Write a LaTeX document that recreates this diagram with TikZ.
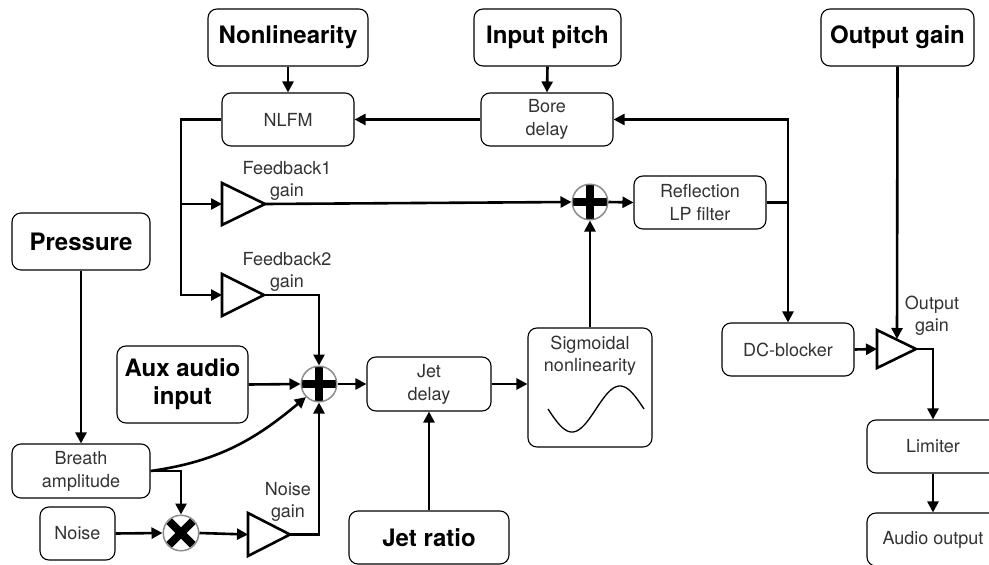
\documentclass[tikz,border=0pt]{standalone}
\usepackage{fontspec}
\setmainfont{TeX Gyre Heros}
\usetikzlibrary{arrows.meta,calc}
\begin{document}
\begin{tikzpicture}[x=1pt,y=-1pt,
 box/.style={draw, rounded corners=9pt, line width=1.1pt, align=center, font=\fontsize{18}{23}\selectfont, text=black!80, inner sep=0pt},
 bbox/.style={draw, rounded corners=9pt, line width=1.1pt, align=center, font=\fontsize{24}{28}\selectfont\bfseries, inner sep=0pt},
 lbl/.style={align=center, font=\fontsize{18}{22}\selectfont, text=black!80, inner sep=0pt},
 arr/.style={line width=2.6pt, -{Triangle[length=11pt,width=11pt]}},
 wire/.style={line width=2.6pt},
 amp/.style={line width=2.6pt, line join=miter},
 junc/.style={circle, draw=black!45, line width=1pt, minimum size=36pt, inner sep=0pt},
 bar/.style={line width=8pt},
]
\fill[white] (0,0) rectangle (989,565);
\useasboundingbox (0,0) rectangle (989,565);

% top control boxes
\node[bbox, minimum width=160pt, minimum height=57pt] (nonlin) at (288,37.5) {Nonlinearity};
\node[bbox, minimum width=147pt, minimum height=57pt] (inpitch) at (547.5,37.5) {Input pitch};
\node[bbox, minimum width=153pt, minimum height=57pt] (outgain) at (897.5,37.5) {Output gain};
\node[bbox, minimum width=138pt, minimum height=57pt] (pressure) at (81,241.5) {Pressure};
\node[bbox, minimum width=131pt, minimum height=77pt] (aux) at (182.5,384.5) {Aux audio\\input};
\node[bbox, minimum width=160pt, minimum height=53pt] (jetratio) at (429,537.5) {Jet ratio};

% processing boxes
\node[box, minimum width=132pt, minimum height=53pt] (nlfm) at (288,119.5) {NLFM};
\node[box, minimum width=132pt, minimum height=53pt] (bore) at (547,119.5) {Bore\\delay};
\node[box, minimum width=132pt, minimum height=53pt] (refl) at (700,202.5) {Reflection\\LP filter};
\node[box, minimum width=138pt, minimum height=54pt] (breath) at (81,471) {Breath\\amplitude};
\node[box, minimum width=75pt, minimum height=53pt] (noise) at (77.5,533.5) {Noise};
\node[box, minimum width=124pt, minimum height=54pt] (jetdelay) at (429,384) {Jet\\delay};
\node[box, minimum width=124pt, minimum height=119pt] (sig) at (590,387.5) {};
\node[lbl] (siglbl) at (590,355.5) {Sigmoidal\\nonlinearity};
\draw[line width=1.3pt] plot[domain=0:360, samples=80] ({548+\x/3.75}, {409+23*sin(\x)});
\node[box, minimum width=132pt, minimum height=53pt] (dcblock) at (788,349.5) {DC-blocker};
\node[box, minimum width=132pt, minimum height=53pt] (limiter) at (933,446.5) {Limiter};
\node[box, minimum width=132pt, minimum height=53pt] (audioout) at (933,539.5) {Audio output};

% amplifiers
\coordinate (fb1in) at (222,204); \coordinate (fb1out) at (265,204);
\coordinate (fb2in) at (222,295); \coordinate (fb2out) at (264,295);
\coordinate (ngin) at (248,534.5); \coordinate (ngout) at (290,534.5);
\coordinate (ogin) at (877,349); \coordinate (ogout) at (916,349);
\coordinate (ogtop) at (897,339);
\draw[amp] (222,183) -- (222,225) -- (fb1out) -- cycle;
\draw[amp] (222,274) -- (222,316) -- (fb2out) -- cycle;
\draw[amp] (248,513) -- (248,556) -- (ngout) -- cycle;
\draw[amp] (877,330) -- (877,368) -- (ogout) -- cycle;
\node[lbl] (fb1lbl) at (287,181) {Feedback1\\gain};
\node[lbl] (fb2lbl) at (287,272) {Feedback2\\gain};
\node[lbl] (nglbl) at (288,502) {Noise\\gain};
\node[lbl] (oglbl) at (932,316) {Output\\gain};

% junctions
\node[junc] (sum1) at (590,202) {};
\node[junc] (sum2) at (319,384) {};
\node[junc] (mult) at (181,533) {};

% connectors
\draw[arr] (nonlin.south) -- (nlfm.north);
\draw[arr] (inpitch.south) -- (bore.north);
\draw[arr] (bore.west) -- (nlfm.east);
\draw[arr] (nlfm.west) -| (181,250) |- (fb2in);
\draw[arr] (181,204) -- (fb1in);
\draw[arr] (fb1out) -- (sum1.west);
\draw[arr] (sum1.east) -- (refl.west);
\draw[arr] (refl.east) -| (dcblock.north);
\draw[arr] (refl.east -| dcblock.north) |- (bore.east);
\draw[arr] (fb2out) -| (sum2.north);
\draw[arr] (aux.east) -- (sum2.west);
\draw[arr] (breath.east) to[out=8, in=220] (sum2.225);
\draw[arr] (breath.east) -| (mult.north);
\draw[arr] (noise.east) -- (mult.west);
\draw[arr] (mult.east) -- (ngin);
\draw[arr] (ngout) -| (sum2.south);
\draw[arr] (sum2.east) -- (jetdelay.west);
\draw[arr] (jetratio.north) -- (jetdelay.south);
\draw[arr] (jetdelay.east) -- (sig.west |- jetdelay.east);
\draw[arr] (sig.north) -- (sum1.south);
\draw[arr] (pressure.south) -- (breath.north);
\draw[arr] (outgain.south) -- (ogtop);
\draw[arr] (dcblock.east) -- (ogin);
\draw[arr] (ogout) -| (limiter.north);
\draw[arr] (limiter.south) -- (audioout.north);

% junction symbols
\foreach \j in {sum1,sum2}{
  \begin{scope}
    \clip (\j) circle (17.5pt);
    \fill[white] (\j) circle (17.5pt);
    \draw[bar] ($(\j)+(-18,0)$) -- ($(\j)+(18,0)$);
    \draw[bar] ($(\j)+(0,-18)$) -- ($(\j)+(0,18)$);
  \end{scope}
  \draw[draw=black!45, line width=1pt] (\j) circle (17.5pt);
}
\begin{scope}
  \clip (mult) circle (17.5pt);
  \fill[white] (mult) circle (17.5pt);
  \draw[bar] ($(mult)+(-12,-12)$) -- ($(mult)+(12,12)$);
  \draw[bar] ($(mult)+(-12,12)$) -- ($(mult)+(12,-12)$);
\end{scope}
\draw[draw=black!45, line width=1pt] (mult) circle (17.5pt);
\end{tikzpicture}
\end{document}
